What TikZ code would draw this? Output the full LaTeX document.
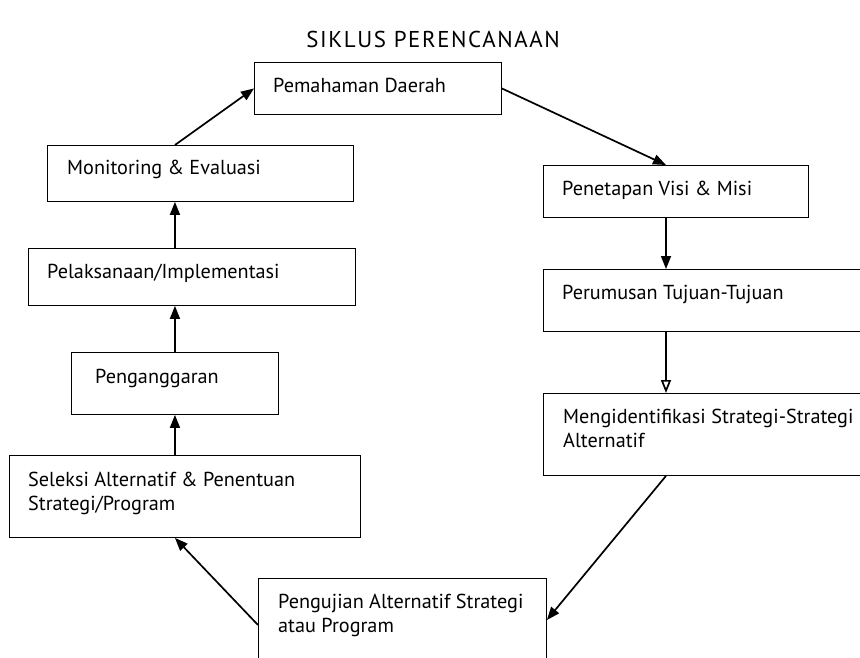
\documentclass[tikz,border=0pt]{standalone}
\usepackage{fontspec}
\setmainfont{PT Sans}
\newfontfamily\titlefont[LetterSpace=7]{PT Sans}
\usetikzlibrary{arrows.meta,calc}
\begin{document}
\begin{tikzpicture}[x=1bp,y=-1bp,
  box/.style={draw, line width=0.9bp, rectangle, inner sep=0pt, anchor=north west},
  lbl/.style={anchor=north west, inner sep=0pt, align=left, font=\fontsize{20.3}{24}\selectfont},
  arr/.style={line width=1.7bp, -{Triangle[length=13bp,width=10bp]}},
  arropen/.style={line width=1.7bp, -{Triangle[open,length=13bp,width=10bp]}}]
\useasboundingbox (0,0) rectangle (860,658);
\clip (0,0) rectangle (860,658);

% title
\node[anchor=base, inner sep=0pt, font=\titlefont\fontsize{23}{27}\selectfont] (title) at (433,48) {SIKLUS PERENCANAAN};

% frames of the steps
\node[box, minimum width=247bp, minimum height=52bp] (pem) at (254,62) {};
\node[box, minimum width=265bp, minimum height=52bp] (vis) at (543,165) {};
\node[box, minimum width=400bp, minimum height=62bp] (rum) at (543,269) {};
\node[box, minimum width=400bp, minimum height=82bp] (mid) at (543,393) {};
\node[box, minimum width=288bp, minimum height=120bp] (uji) at (258,578) {};
\node[box, minimum width=351bp, minimum height=82bp] (sel) at (9,455) {};
\node[box, minimum width=207bp, minimum height=62bp] (ang) at (71,352) {};
\node[box, minimum width=327bp, minimum height=57bp] (pel) at (28,248) {};
\node[box, minimum width=306bp, minimum height=56bp] (mon) at (47,145) {};

% step texts (first baseline 20bp below the node top)
\node[lbl] (tpem) at (273,72) {\rule{0pt}{20bp}Pemahaman Daerah};
\node[lbl] (tvis) at (562,175) {\rule{0pt}{20bp}Penetapan Visi \& Misi};
\node[lbl] (trum) at (562,279) {\rule{0pt}{20bp}Perumusan Tujuan-Tujuan};
\node[lbl] (tmid) at (563,403) {\rule{0pt}{20bp}Mengidentifikasi Strategi-Strategi\\Alternatif};
\node[lbl] (tuji) at (278,588) {\rule{0pt}{20bp}Pengujian Alternatif Strategi\\atau Program};
\node[lbl] (tsel) at (28,466) {\rule{0pt}{20bp}Seleksi Alternatif \& Penentuan\\Strategi/Program};
\node[lbl] (tang) at (95,363) {\rule{0pt}{20bp}Penganggaran};
\node[lbl] (tpel) at (47,258) {\rule{0pt}{20bp}Pelaksanaan/Implementasi};
\node[lbl] (tmon) at (67,154) {\rule{0pt}{20bp}Monitoring \& Evaluasi};

% connectors
\coordinate (rx) at (666,0);
\draw[arr] (mon.north -| ang.north) -- (pem.west);
\draw[arr] (pem.east) -- (vis.north -| rx);
\draw[arr] (vis.south -| rx) -- (rum.north -| rx);
\draw[arropen] (rum.south -| rx) -- (mid.north -| rx);
\draw[arr] (mid.south -| rx) -- ($(uji.north east)+(0,42)$);
\draw[arr] ($(uji.north west)+(0,47)$) -- (sel.south -| ang.north);
\draw[arr] (sel.north -| ang.north) -- (ang.south);
\draw[arr] (ang.north) -- (pel.south -| ang.north);
\draw[arr] (pel.north -| ang.north) -- (mon.south -| ang.north);
\end{tikzpicture}
\end{document}
